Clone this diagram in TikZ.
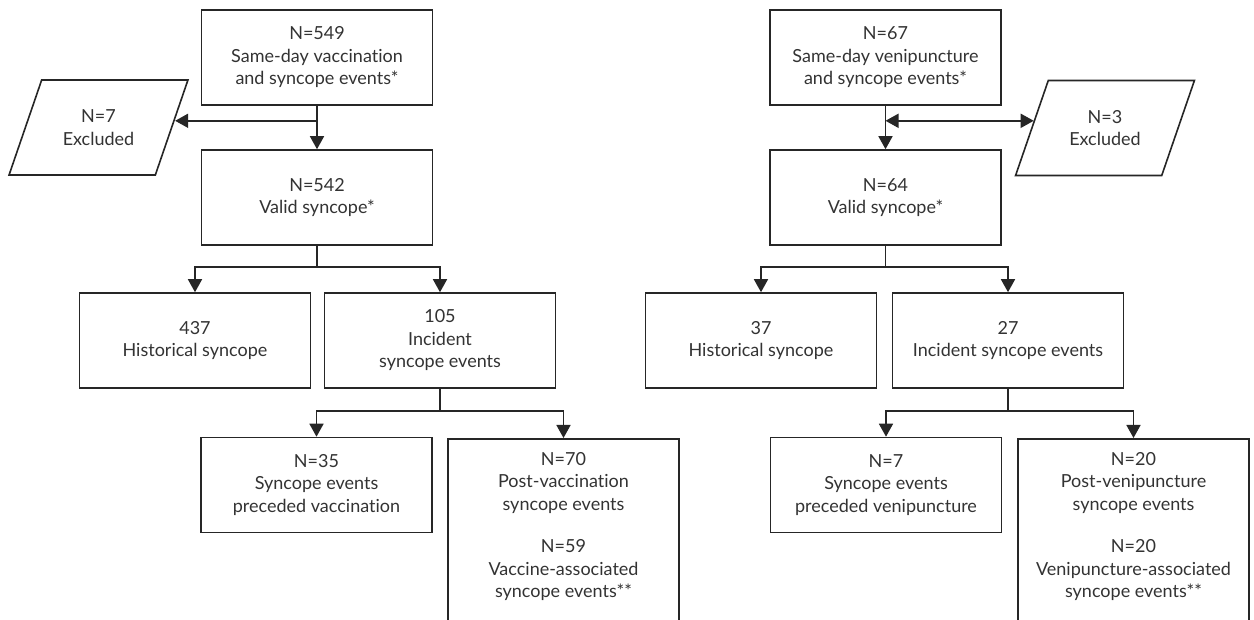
\documentclass[tikz,border=0pt]{standalone}
\usepackage{fontspec}
\setmainfont{Lato}[Ligatures=NoCommon]
\usetikzlibrary{arrows.meta,shapes.geometric,calc}
\definecolor{ink}{HTML}{262626}
\definecolor{txtc}{HTML}{333333}
\begin{document}
\begin{tikzpicture}[x=1pt,y=-1pt,
  lbl/.style={text=txtc, align=center, inner sep=0pt, font=\fontsize{18}{22.5}\selectfont},
  box/.style={lbl, draw=ink, line width=1.6pt, minimum width=231pt, minimum height=95pt},
  para/.style={lbl, trapezium, trapezium left angle=60, trapezium right angle=120,
    trapezium stretches=true, draw=ink, line width=1.6pt, minimum width=179pt, minimum height=95pt},
  link/.style={draw=ink, line width=1.6pt},
  conn/.style={link, -{Triangle[length=13pt,width=14pt]}},
  conn2/.style={link, {Triangle[length=13pt,width=14pt]}-{Triangle[length=13pt,width=14pt]}}]
\useasboundingbox (0,0) rectangle (1254,620);
\clip (0,0) rectangle (1254,620);
\fill[white] (0,0) rectangle (1254,620);

% ---------- left flow ----------
\node[box] (aL) at (317,57.5) {N=549\\Same-day vaccination\\and syncope events*};
\node[box] (bL) at (317,197.5) {N=542\\Valid syncope*};
\node[para] (exL) at (98.5,127.5) {N=7\\Excluded};
\node[box] (hL) at (195,340.5) {437\\Historical syncope};
\node[box] (iL) at (440,340.5) {105\\Incident\\syncope events};
\node[box] (pL) at (316.5,485) {N=35\\Syncope events\\preceded vaccination};
\node[box, anchor=north, minimum height=200pt] (qL) at (563.5,438) {};
\node[lbl, anchor=north] (qLt) at ($(qL.north)+(0,14)$) {N=70\\Post-vaccination\\syncope events\\[20pt]N=59\\Vaccine-associated\\syncope events**};

\draw[conn] (aL) -- (bL);
\coordinate (jL) at ($(aL.south)+(0,15)$);
\draw[conn] (jL) -- (jL -| {$(exL.bottom right corner)!0.58!(exL.top right corner)$});
\draw[link] (bL.south) -- ++(0,21) coordinate (kL);
\draw[conn] (kL) -| (hL.north);
\draw[conn] (kL) -| (iL.north);
\draw[link] (iL.south) -- ++(0,22) coordinate (mL);
\draw[conn] (mL) -| (pL.north);
\draw[conn] (mL) -| (qL.north);

% ---------- right flow ----------
\node[box] (aR) at (885.5,57.5) {N=67\\Same-day venipuncture\\and syncope events*};
\node[box] (bR) at (885.5,197.5) {N=64\\Valid syncope*};
\node[para] (exR) at (1105,128) {N=3\\Excluded};
\node[box] (hR) at (761,340.5) {37\\Historical syncope};
\node[box] (iR) at (1008,340.5) {27\\Incident syncope events};
\node[box] (pR) at (886,485) {N=7\\Syncope events\\preceded venipuncture};
\node[box, anchor=north, minimum height=200pt] (qR) at (1133.5,438) {};
\node[lbl, anchor=north] (qRt) at ($(qR.north)+(0,14)$) {N=20\\Post-venipuncture\\syncope events\\[20pt]N=20\\Venipuncture-associated\\syncope events**};

\draw[conn] (aR) -- (bR);
\coordinate (jR) at ($(aR.south)+(0,15)$);
\draw[conn2] (jR) -- (jR -| {$(exR.bottom left corner)!0.58!(exR.top left corner)$});
\draw[link] (bR.south) -- ++(0,21) coordinate (kR);
\draw[conn] (kR) -| (hR.north);
\draw[conn] (kR) -| (iR.north);
\draw[link] (iR.south) -- ++(0,22) coordinate (mR);
\draw[conn] (mR) -| (pR.north);
\draw[conn] (mR) -| (qR.north);
\end{tikzpicture}
\end{document}
